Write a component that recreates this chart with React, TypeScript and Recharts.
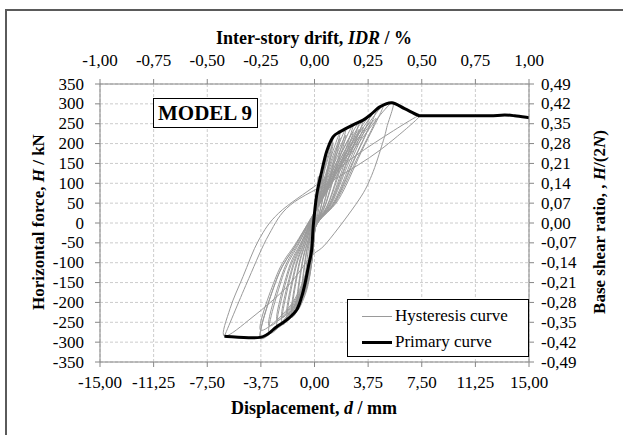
import { CartesianGrid, Legend, Line, LineChart, XAxis, YAxis } from "recharts"

// displacement d [mm] / horizontal force H [kN]
const primaryD = [-6.3, -3.8, -2.64, -1.94, -1.25, -0.9, -0.66, -0.43, -0.2, -0.08, 0.15, 0.5, 0.85, 1.3, 1.8, 2.7, 3.4, 3.9, 4.6, 5.4, 6.3, 7.2, 7.6, 10, 12.5, 13.3, 14, 15]
const primaryH = [-285, -288, -261, -244, -219, -186, -152, -110, -68, -5, 70, 129, 180, 217, 230, 247, 259, 272, 293, 303, 288, 272, 270, 270, 270, 272, 270, 265]

const hystD = [
  0, 0.12, 0.27, 0.18, 0.09, 0.03, -0.03, -0.09, -0.2,
  -0.14, -0.07, 0.05, 0.25, 0.5, 0.34, 0.18, 0.05, -0.06, -0.19, -0.43,
  -0.29, -0.14, 0.05, 0.43, 0.85, 0.58, 0.3, 0.05, -0.1, -0.3, -0.66,
  -0.45, -0.22, 0.05, 0.65, 1.3, 0.88, 0.46, 0.05, -0.14, -0.41, -0.9,
  -0.61, -0.3, 0.05, 0.65, 1.3, 0.88, 0.46, 0.05, -0.14, -0.41, -0.9,
  -0.61, -0.3, 0.05, 0.9, 1.8, 1.22, 0.63, 0.05, -0.19, -0.56, -1.25,
  -0.85, -0.41, 0.05, 0.9, 1.8, 1.22, 0.63, 0.05, -0.19, -0.56, -1.25,
  -0.85, -0.41, 0.05, 1.1, 2.2, 1.5, 0.77, 0.05, -0.24, -0.72, -1.6,
  -1.09, -0.53, 0.05, 1.1, 2.2, 1.5, 0.77, 0.05, -0.24, -0.72, -1.6,
  -1.09, -0.53, 0.05, 1.35, 2.7, 1.84, 0.95, 0.05, -0.29, -0.87, -1.94,
  -1.32, -0.64, 0.05, 1.35, 2.7, 1.84, 0.95, 0.05, -0.29, -0.87, -1.94,
  -1.32, -0.64, 0.05, 1.55, 3.1, 2.11, 1.09, 0.05, -0.35, -1.04, -2.3,
  -1.56, -0.76, 0.05, 1.55, 3.1, 2.11, 1.09, 0.05, -0.35, -1.04, -2.3,
  -1.56, -0.76, 0.05, 1.7, 3.4, 2.31, 1.19, 0.05, -0.4, -1.19, -2.64,
  -1.8, -0.87, 0.05, 1.7, 3.4, 2.31, 1.19, 0.05, -0.4, -1.19, -2.64,
  -1.8, -0.87, 0.05, 1.95, 3.9, 2.65, 1.37, 0.05, -0.48, -1.44, -3.2,
  -2.18, -1.06, 0.05, 1.95, 3.9, 2.65, 1.37, 0.05, -0.48, -1.44, -3.2,
  -2.18, -1.06, 0.05, 2.15, 4.3, 2.92, 1.5, 0.05, -0.57, -1.71, -3.8,
  -2.58, -1.25, 0.05, 2.15, 4.3, 2.92, 1.5, 0.05, -0.57, -1.71, -3.8,
  -2.58, -1.25, 0.05, 2.4, 4.8, 3.26, 1.68, 0.05, -0.57, -1.71, -3.8,
  -2.58, -1.25, 0.05, 2.7, 5.4, 5.05, 4.75, 4.0, 3.1, 0.85, -0.26, -1.9, -4.3, -6.3,
  -5.9, -5.0, -3.9, -2.5, 0.3, 3.5, 7.4,
  4.6, 1.5, -1.7, -3.2, -4.6, -6.3,
]
const hystH = [
  0, 62, 117, 70, 23, -10, -31, -53, -68,
  -32, -12, 30, 77, 129, 77, 26, -10, -50, -86, -110,
  -52, -20, 30, 108, 180, 108, 36, -10, -68, -119, -152,
  -71, -27, 30, 130, 217, 130, 43, -10, -84, -145, -186,
  -87, -33, 28, 124, 202, 121, 40, -12, -78, -135, -173,
  -81, -31, 30, 138, 230, 138, 46, -10, -99, -171, -219,
  -103, -39, 28, 130, 214, 128, 43, -12, -92, -159, -204,
  -96, -37, 30, 143, 238, 143, 48, -10, -106, -183, -235,
  -110, -42, 28, 135, 221, 133, 45, -12, -99, -170, -219,
  -103, -39, 30, 148, 247, 148, 49, -10, -110, -190, -244,
  -115, -44, 28, 139, 230, 138, 46, -12, -102, -177, -227,
  -107, -41, 30, 152, 253, 152, 51, -10, -114, -198, -254,
  -119, -46, 28, 143, 235, 141, 47, -12, -106, -184, -236,
  -111, -42, 30, 155, 259, 155, 52, -10, -117, -204, -261,
  -123, -47, 28, 146, 241, 145, 48, -12, -109, -190, -243,
  -114, -44, 30, 163, 272, 163, 54, -10, -124, -215, -276,
  -130, -50, 28, 153, 253, 152, 50, -12, -115, -200, -257,
  -121, -46, 30, 170, 283, 170, 57, -10, -130, -225, -288,
  -135, -52, 28, 160, 263, 158, 53, -12, -121, -209, -268,
  -126, -48, 30, 178, 296, 178, 59, -10, -130, -225, -289,
  -136, -52, 30, 182, 303, 240, 200, 120, 58, -50, -85, -160, -236, -285,
  -215, -135, -43, 25, 100, 185, 272,
  184, 112, 45, -30, -140, -285,
]

const dTicks = [-15, -11.25, -7.5, -3.75, 0, 3.75, 7.5, 11.25, 15]
const idrTicks = [-1, -0.75, -0.5, -0.25, 0, 0.25, 0.5, 0.75, 1]
const hTicks = [-350, -300, -250, -200, -150, -100, -50, 0, 50, 100, 150, 200, 250, 300, 350]
const ratioTicks = [-0.49, -0.42, -0.35, -0.28, -0.21, -0.14, -0.07, 0, 0.07, 0.14, 0.21, 0.28, 0.35, 0.42, 0.49]

const primary = primaryD.map((d, i) => ({ d, h: primaryH[i] }))
const hysteresis = hystD.map((d, i) => ({ d, h: hystH[i] }))

const font = "'Liberation Serif', 'Times New Roman', serif"
const axisGray = "#868686"
const comma = (v: number) => v.toFixed(2).replace(".", ",")
const plain = (v: number) => String(v)
const titleStyle = { fontFamily: font, fontSize: 18, fontWeight: "bold" as const }
const sideTitleStyle = { fontFamily: font, fontSize: 17, fontWeight: "bold" as const }

// tick label in Times-like font; dy sets the vertical anchor
const makeTick = (anchor: string, dy: string, fmt: (v: number) => string) =>
  function TickLabel({ x, y, payload }: any) {
    return (
      <text x={x} y={y} dy={dy} textAnchor={anchor} style={{ fontFamily: font, fontSize: 17, fill: "#000" }}>
        {fmt(payload.value)}
      </text>
    )
  }
const BottomTick = makeTick("middle", "0.71em", comma)
const TopTick = makeTick("middle", "0", comma)
const LeftTick = makeTick("end", "0.33em", plain)
const RightTick = makeTick("start", "0.33em", comma)

// Excel-like smoothed line (Catmull-Rom)
function smooth(context: any) {
  let pts: number[][] = []
  return {
    areaStart() {},
    areaEnd() {},
    lineStart() {
      pts = []
    },
    point(x: number, y: number) {
      pts.push([+x, +y])
    },
    lineEnd() {
      if (!pts.length) return
      context.moveTo(pts[0][0], pts[0][1])
      for (let i = 0; i < pts.length - 1; i++) {
        const p0 = pts[i - 1] || pts[i]
        const p1 = pts[i]
        const p2 = pts[i + 1]
        const p3 = pts[i + 2] || p2
        context.bezierCurveTo(
          p1[0] + (p2[0] - p0[0]) / 6,
          p1[1] + (p2[1] - p0[1]) / 6,
          p2[0] - (p3[0] - p1[0]) / 6,
          p2[1] - (p3[1] - p1[1]) / 6,
          p2[0],
          p2[1]
        )
      }
    },
  }
}

function LegendBox({ payload }: any) {
  return (
    <div
      style={{
        boxSizing: "border-box",
        width: 182,
        height: 58,
        border: "1px solid #000",
        background: "#fff",
        fontFamily: font,
        fontSize: 17,
        paddingTop: 3,
      }}
    >
      {(payload || []).map((entry: any) => (
        <div key={entry.value} style={{ display: "flex", alignItems: "center", height: 26, paddingLeft: 14 }}>
          <span
            style={{
              display: "inline-block",
              width: 30,
              height: entry.payload?.strokeWidth ?? 1,
              background: entry.color,
              marginRight: 3,
            }}
          />
          <span>{entry.value}</span>
        </div>
      ))}
    </div>
  )
}

export default function App() {
  return (
    <div style={{ position: "absolute", left: 0, top: 0, width: 623, height: 435, overflow: "hidden", background: "#fff" }}>
      <div
        style={{
          position: "absolute",
          left: 5,
          top: 9,
          width: 640,
          height: 460,
          border: "2px solid #5a5a5a",
        }}
      />
      <div style={{ position: "absolute", left: 0, top: 0 }}>
        <LineChart width={623} height={435} margin={{ top: 44, right: 34, bottom: 43, left: 40 }}>
          <CartesianGrid xAxisId="bottom" yAxisId="left" stroke="#cccccc" strokeDasharray="3 2" />
          <XAxis
            xAxisId="bottom"
            dataKey="d"
            type="number"
            domain={[-15, 15]}
            ticks={dTicks}
            interval={0}
            allowDataOverflow
            height={30}
            stroke={axisGray}
            tickSize={5}
            tickMargin={9}
            tick={<BottomTick />}
          />
          <XAxis
            xAxisId="top"
            dataKey="idr"
            orientation="top"
            type="number"
            domain={[-1, 1]}
            ticks={idrTicks}
            interval={0}
            allowDataOverflow
            height={40}
            stroke={axisGray}
            tickSize={5}
            tickMargin={13}
            tick={<TopTick />}
          />
          <YAxis
            yAxisId="left"
            type="number"
            domain={[-350, 350]}
            ticks={hTicks}
            interval={0}
            allowDataOverflow
            width={60}
            stroke={axisGray}
            tickSize={5}
            tickMargin={11}
            tick={<LeftTick />}
          />
          <YAxis
            yAxisId="right"
            orientation="right"
            type="number"
            domain={[-0.49, 0.49]}
            ticks={ratioTicks}
            interval={0}
            allowDataOverflow
            width={60}
            stroke={axisGray}
            tickSize={5}
            tickMargin={7}
            tick={<RightTick />}
          />
          <Line
            name="Hysteresis curve"
            data={hysteresis}
            dataKey="h"
            xAxisId="bottom"
            yAxisId="left"
            type={smooth as any}
            stroke="#9a9a9a"
            strokeWidth={1}
            dot={false}
            activeDot={false}
            isAnimationActive={false}
          />
          <Line
            name="Primary curve"
            data={primary}
            dataKey="h"
            xAxisId="bottom"
            yAxisId="left"
            type={smooth as any}
            stroke="#000"
            strokeWidth={3}
            dot={false}
            activeDot={false}
            isAnimationActive={false}
          />
          <Legend
            layout="horizontal"
            verticalAlign="middle"
            align="center"
            content={<LegendBox />}
            wrapperStyle={{ left: 347, top: 299, width: 182, height: 58 }}
          />
          <text x={314} y={44} textAnchor="middle" style={titleStyle}>
            Inter-story drift, <tspan fontStyle="italic">IDR</tspan> / %
          </text>
          <text x={314} y={414} textAnchor="middle" style={titleStyle}>
            Displacement, <tspan fontStyle="italic">d</tspan> / mm
          </text>
          <text x={44} y={222} textAnchor="middle" transform="rotate(-90 44 222)" style={sideTitleStyle}>
            Horizontal force, <tspan fontStyle="italic">H</tspan> / kN
          </text>
          <text x={605} y={222} textAnchor="middle" transform="rotate(-90 605 222)" style={sideTitleStyle}>
            Base shear ratio, , <tspan fontStyle="italic">H</tspan>/(2<tspan fontStyle="italic">N</tspan>)
          </text>
          <rect x={153.5} y={98.5} width={104} height={29} fill="#fff" stroke="#000" strokeWidth={1} />
          <text x={205} y={120} textAnchor="middle" style={{ fontFamily: font, fontSize: 21, fontWeight: "bold" }}>
            MODEL 9
          </text>
        </LineChart>
      </div>
    </div>
  )
}
